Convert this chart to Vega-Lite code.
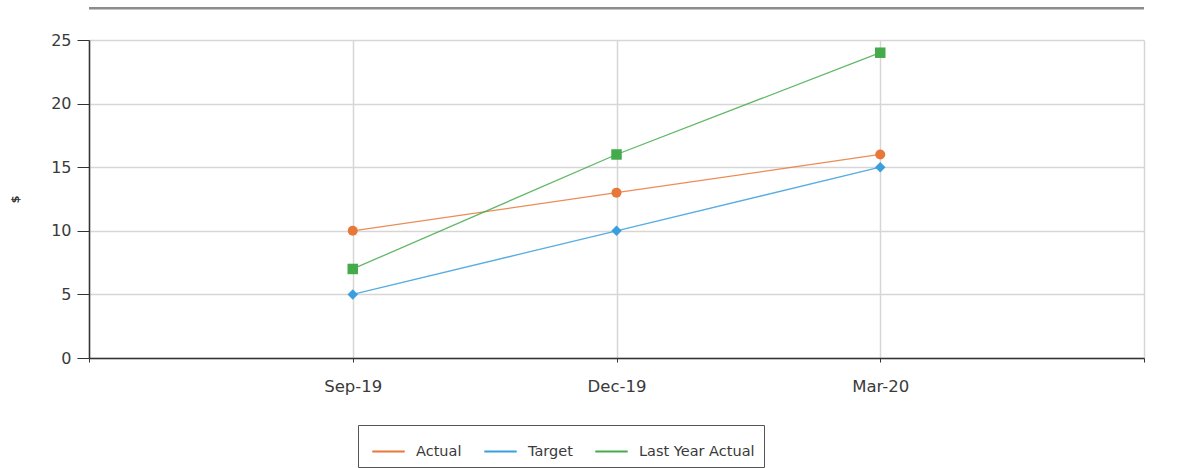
{
  "$schema": "https://vega.github.io/schema/vega-lite/v6.json",
  "width": 1055,
  "height": 318,
  "autosize": {"type": "none"},
  "padding": {"left": 89, "top": 40, "right": 43, "bottom": 110},
  "background": "white",
  "config": {
    "view": {"stroke": null},
    "font": "DejaVu Sans",
    "axis": {"labelFont": "DejaVu Sans", "labelColor": "#3a3a3a", "gridColor": "#d6d6d6", "gridWidth": 1.5, "domainColor": "#333", "domainWidth": 1.5, "tickColor": "#333"},
    "legend": {"labelFont": "DejaVu Sans"}
  },
  "data": {
    "values": [
      {"month": "Sep-19", "series": "Actual", "value": 10},
      {"month": "Dec-19", "series": "Actual", "value": 13},
      {"month": "Mar-20", "series": "Actual", "value": 16},
      {"month": "Sep-19", "series": "Target", "value": 5},
      {"month": "Dec-19", "series": "Target", "value": 10},
      {"month": "Mar-20", "series": "Target", "value": 15},
      {"month": "Sep-19", "series": "Last Year Actual", "value": 7},
      {"month": "Dec-19", "series": "Last Year Actual", "value": 16},
      {"month": "Mar-20", "series": "Last Year Actual", "value": 24}
    ]
  },
  "layer": [
    {
      "data": {"values": [{"edge": "top"}]},
      "mark": {"type": "rule", "color": "#8c8c8c", "strokeWidth": 2.5},
      "encoding": {"y": {"datum": 27.5, "type": "quantitative"}}
    },
    {
      "encoding": {
        "x": {
          "field": "month", "type": "ordinal",
          "scale": {"type": "point", "padding": 0, "domain": ["s", "Sep-19", "Dec-19", "Mar-20", "e"]},
          "axis": {"title": null, "grid": true, "tickSize": 4, "labelPadding": 16, "labelAngle": 0, "labelFontSize": 16.5,
                   "labelExpr": "datum.label == 's' || datum.label == 'e' ? '' : datum.label"}
        },
        "y": {
          "field": "value", "type": "quantitative",
          "scale": {"domain": [0, 25], "nice": false},
          "axis": {"title": "$", "values": [0, 5, 10, 15, 20, 25], "tickSize": 12, "labelPadding": 6, "labelFontSize": 16, "grid": true, "domain": true,
                   "titleAngle": -90, "titleFontSize": 11, "titleFontWeight": "bold", "titleColor": "#333", "titlePadding": 30}
        },
        "color": {
          "field": "series", "type": "nominal",
          "scale": {"domain": ["Actual", "Target", "Last Year Actual"], "range": ["#e8783a", "#3a9fdc", "#44ab4b"]},
          "legend": {
            "title": null, "orient": "none", "legendX": 269, "legendY": 385, "direction": "horizontal",
            "strokeColor": "#555", "padding": 9, "symbolOffset": 4, "symbolType": "stroke", "symbolSize": 1050, "symbolStrokeWidth": 2,
            "labelFontSize": 14.5, "labelColor": "#3a3a3a", "columnPadding": 17, "labelOffset": 10, "symbolOpacity": 1
          }
        }
      },
      "layer": [
        {"mark": {"type": "line", "strokeWidth": 1.3, "opacity": 0.85}},
        {
          "transform": [{"filter": "datum.series == 'Actual'"}],
          "mark": {"type": "point", "shape": "circle", "filled": true, "size": 100, "opacity": 1}
        },
        {
          "transform": [{"filter": "datum.series == 'Target'"}],
          "mark": {"type": "point", "shape": "diamond", "filled": true, "size": 110, "opacity": 1}
        },
        {
          "transform": [{"filter": "datum.series == 'Last Year Actual'"}],
          "mark": {"type": "point", "shape": "square", "filled": true, "size": 110, "opacity": 1}
        }
      ]
    }
  ]
}
